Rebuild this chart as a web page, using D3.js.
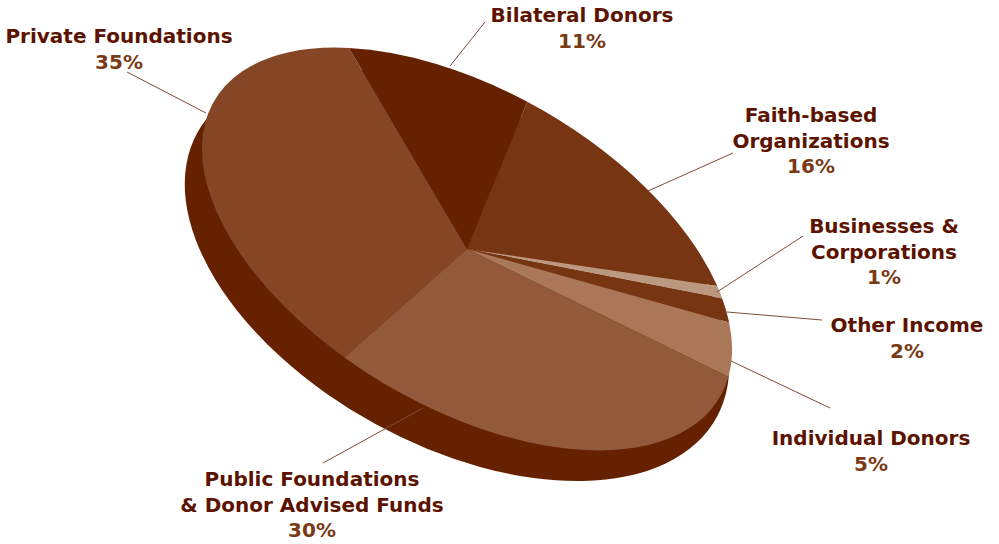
<!DOCTYPE html>
<html lang="en">
  <head>
    <meta charset="UTF-8" />
    <title>Income sources</title>
    <style>
      html, body { margin: 0; padding: 0; background: #fff; }
      svg { display: block; }
      text { font-family: "DejaVu Sans", sans-serif; font-weight: bold; font-size: 20px; text-anchor: middle; }
    </style>
  </head>
  <body>
    <div id="chart"></div>
    <script src="https://cdnjs.cloudflare.com/ajax/libs/d3/7.8.5/d3.min.js"></script>
    <script>
      var categories = [
        "Private Foundations",
        "Bilateral Donors",
        "Faith-based Organizations",
        "Businesses & Corporations",
        "Other Income",
        "Individual Donors",
        "Public Foundations & Donor Advised Funds",
      ];
      var shares = [35, 11, 16, 1, 2, 5, 30];
      var labelLines = [
        ["Private Foundations"],
        ["Bilateral Donors"],
        ["Faith-based", "Organizations"],
        ["Businesses &", "Corporations"],
        ["Other Income"],
        ["Individual Donors"],
        ["Public Foundations", "& Donor Advised Funds"],
      ];

      var sliceColors = ["#844625", "#662200", "#783512", "#bb9880", "#783512", "#aa7859", "#93593b"];
      var sideColor = "#662200";
      var nameColor = "#5c1300";
      var percentColor = "#7a3a16";
      var lineColor = "#7f4a3c";

      var width = 999, height = 544;
      var cx = 467, cy = 249, rx = 293, ry = 158, tilt = 30.4;

      // label anchor: centre x, first baseline
      var labelPos = [
        { x: 119, y: 43 },
        { x: 582, y: 22 },
        { x: 811, y: 122 },
        { x: 884, y: 233 },
        { x: 907, y: 332 },
        { x: 871, y: 445 },
        { x: 312, y: 486 },
      ];
      var lineStep = 25.6;

      var leaders = [
        [127, 72, 206, 113],
        [485, 22, 450, 66],
        [733, 153, 648, 191],
        [803, 236, 717, 292],
        [822, 320, 727, 312],
        [830, 408, 731, 361],
        [323, 463, 423, 408],
      ];

      var svg = d3.select("#chart").append("svg").attr("width", width).attr("height", height);

      var pie = d3.pie().sort(null)
        .startAngle((-170 * Math.PI) / 180)
        .endAngle((190 * Math.PI) / 180);
      var arc = d3.arc().innerRadius(0).outerRadius(rx);

      //dark rim, its own ellipse lying under the top face
      svg.append("path")
        .attr("d", arc({ startAngle: 0, endAngle: 2 * Math.PI }))
        .attr("transform", "translate(457,275) rotate(28.7) scale(" + 296 / rx + "," + 170 / rx + ")")
        .attr("fill", sideColor);

      var face = svg.append("g")
        .attr("transform", "translate(" + cx + "," + cy + ") rotate(" + tilt + ") scale(1," + ry / rx + ")");

      face.selectAll("path")
        .data(pie(shares))
        .enter()
        .append("path")
        .attr("d", arc)
        .attr("fill", function (d, i) { return sliceColors[i]; });

      svg.selectAll("line")
        .data(leaders)
        .enter()
        .append("line")
        .attr("x1", function (d) { return d[0]; })
        .attr("y1", function (d) { return d[1]; })
        .attr("x2", function (d) { return d[2]; })
        .attr("y2", function (d) { return d[3]; })
        .attr("stroke", lineColor)
        .attr("stroke-width", 1);

      categories.forEach(function (c, i) {
        var g = svg.append("g").attr("class", "label");
        var lines = labelLines[i];
        lines.forEach(function (t, j) {
          g.append("text")
            .attr("x", labelPos[i].x)
            .attr("y", labelPos[i].y + j * lineStep)
            .attr("fill", nameColor)
            .text(t);
        });
        g.append("text")
          .attr("x", labelPos[i].x)
          .attr("y", labelPos[i].y + lines.length * lineStep)
          .attr("fill", percentColor)
          .text(shares[i] + "%");
      });
    </script>
  </body>
</html>
